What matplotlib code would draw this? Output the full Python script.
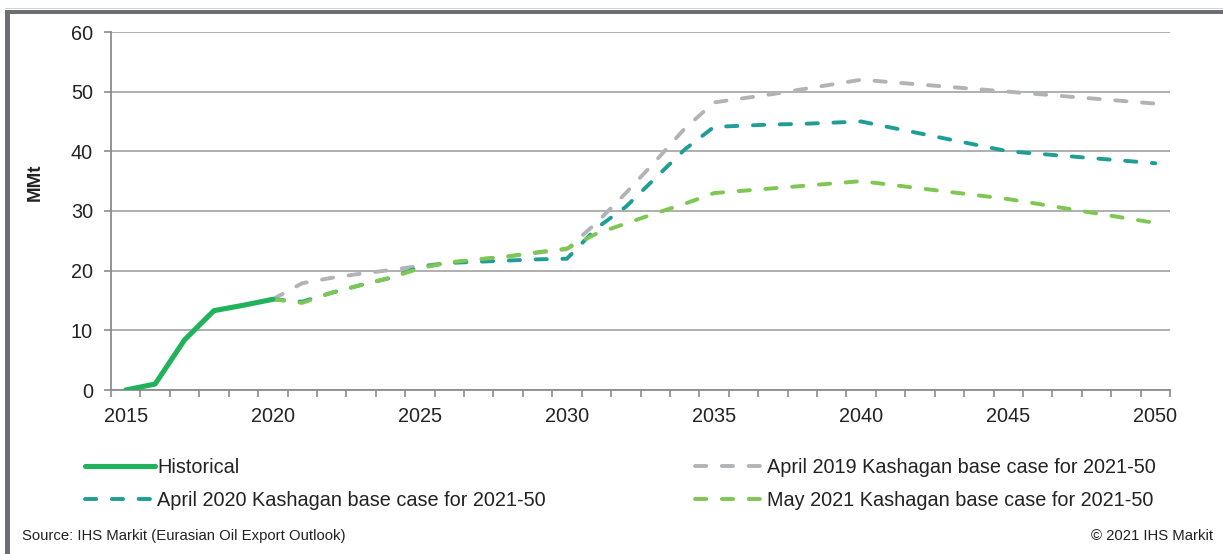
import matplotlib
matplotlib.use("Agg")
import matplotlib.pyplot as plt
from matplotlib.patches import Rectangle

plt.rcParams['font.family'] = ['Liberation Sans', 'DejaVu Sans']

# ---- data ----
hist_years = [2015, 2016, 2017, 2018, 2019, 2020]
hist_vals = [0.0, 1.0, 8.4, 13.3, 14.2, 15.2]

fc_years = list(range(2020, 2051))
apr2019 = [15.2, 17.9, 18.8, 19.5, 20.1, 20.8, 21.3, 21.9, 22.4, 23.0, 23.6,
           28.0, 33.0, 38.3, 43.8, 48.2, 48.9, 49.6, 50.4, 51.2, 52.0,
           51.6, 51.2, 50.8, 50.4, 50.0, 49.6, 49.2, 48.8, 48.4, 48.0]
apr2020 = [15.2, 14.8, 16.3, 17.6, 18.8, 20.6, 21.3, 21.5, 21.7, 21.9, 22.0,
           27.1, 30.7, 35.5, 40.3, 44.1, 44.3, 44.5, 44.6, 44.8, 45.0,
           44.0, 43.0, 42.0, 41.0, 40.0, 39.6, 39.2, 38.8, 38.4, 38.0]
may2021 = [15.2, 14.6, 16.3, 17.6, 18.8, 20.4, 21.4, 21.9, 22.4, 23.1, 23.7,
           26.2, 27.9, 29.6, 31.2, 33.0, 33.4, 33.8, 34.2, 34.6, 35.0,
           34.4, 33.8, 33.2, 32.6, 32.0, 31.2, 30.4, 29.6, 28.8, 28.0]

xtick_labels = [2015, 2020, 2025, 2030, 2035, 2040, 2045, 2050]
ytick_vals = [0, 10, 20, 30, 40, 50, 60]

labels = {
    'hist': 'Historical',
    'a19': 'April 2019 Kashagan base case for 2021-50',
    'a20': 'April 2020 Kashagan base case for 2021-50',
    'm21': 'May 2021 Kashagan base case for 2021-50',
}

# ---- styling ----
c_hist = '#21b35b'
c_a19 = '#b1b4b7'
c_a20 = '#1f9e96'
c_m21 = '#7dc752'
grid_c = '#a9a9a9'
axis_c = '#8c8c8c'
text_c = '#222222'

W, H = 1223, 554
fig = plt.figure(figsize=(W / 100, H / 100), dpi=100)
ax = fig.add_axes([111 / W, 1 - 390 / H, (1170 - 111) / W, (390 - 32) / H])

dash_kw = dict(lw=2.8, dashes=(2.9, 4.0), dash_capstyle='round', solid_capstyle='round')
l19, = ax.plot(fc_years, apr2019, color=c_a19, label=labels['a19'], zorder=3, **dash_kw)
l20, = ax.plot(fc_years, apr2020, color=c_a20, label=labels['a20'], zorder=4, **dash_kw)
l21, = ax.plot(fc_years, may2021, color=c_m21, label=labels['m21'], zorder=5, **dash_kw)
lh, = ax.plot(hist_years, hist_vals, color=c_hist, lw=3.7, label=labels['hist'],
              solid_capstyle='round', solid_joinstyle='round', zorder=6)

ax.set_xlim(2014.5, 2050.5)
ax.set_ylim(0, 60)

ax.set_xticks(xtick_labels)
ax.set_xticklabels([str(v) for v in xtick_labels])
ax.set_xticks([y + 0.5 for y in range(2014, 2051)], minor=True)
ax.tick_params(axis='x', which='major', length=0, pad=12, labelsize=14.3, labelcolor=text_c)
ax.tick_params(axis='x', which='minor', length=5, width=1.2, color=axis_c, direction='out')

ax.set_yticks(ytick_vals)
ax.tick_params(axis='y', which='major', length=5, width=1.2, color=axis_c, direction='out',
               pad=8, labelsize=14.3, labelcolor=text_c)

ax.yaxis.grid(True, color=grid_c, lw=1.3)
ax.set_axisbelow(True)
for s in ['top', 'right']:
    ax.spines[s].set_visible(False)
for s in ['left', 'bottom']:
    ax.spines[s].set_color(axis_c)
    ax.spines[s].set_linewidth(1.3)

fig.text(35 / W, 1 - 182 / H, 'MMt', fontsize=13.5, fontweight='bold', color=text_c,
         rotation=90, ha='center', va='center')

leg_kw = dict(frameon=False, fontsize=14.3, handlelength=3.5, handletextpad=0.15,
              labelspacing=0.72, borderpad=0, borderaxespad=0, loc='center left')
leg1 = fig.legend([lh, l20], [labels['hist'], labels['a20']],
                  bbox_to_anchor=(85 / W, 1 - 484 / H), **leg_kw)
leg2 = fig.legend([l19, l21], [labels['a19'], labels['m21']],
                  bbox_to_anchor=(695 / W, 1 - 484 / H), **leg_kw)
for leg in (leg1, leg2):
    for t in leg.get_texts():
        t.set_color(text_c)

fig.text(22 / W, 1 - 536 / H, 'Source: IHS Markit (Eurasian Oil Export Outlook)',
         fontsize=10.7, color=text_c, ha='left', va='center')
fig.text(1213 / W, 1 - 536 / H, '\u00a9 2021 IHS Markit',
         fontsize=10.7, color=text_c, ha='right', va='center')

# frame bars (top and left)
frame_c = '#6d6e71'
fig.add_artist(Rectangle((5 / W, 0), 5 / W, 1 - 10 / H, transform=fig.transFigure,
                         color=frame_c, lw=0))
fig.add_artist(Rectangle((5 / W, 1 - 14 / H), 1 - 5 / W, 4 / H, transform=fig.transFigure,
                         color=frame_c, lw=0))
fig.add_artist(Rectangle((5 / W, 1 - 9 / H), 1 - 5 / W, 1 / H, transform=fig.transFigure,
                         color='#d4d4d4', lw=0))

fig.savefig('out.png', dpi=100)
